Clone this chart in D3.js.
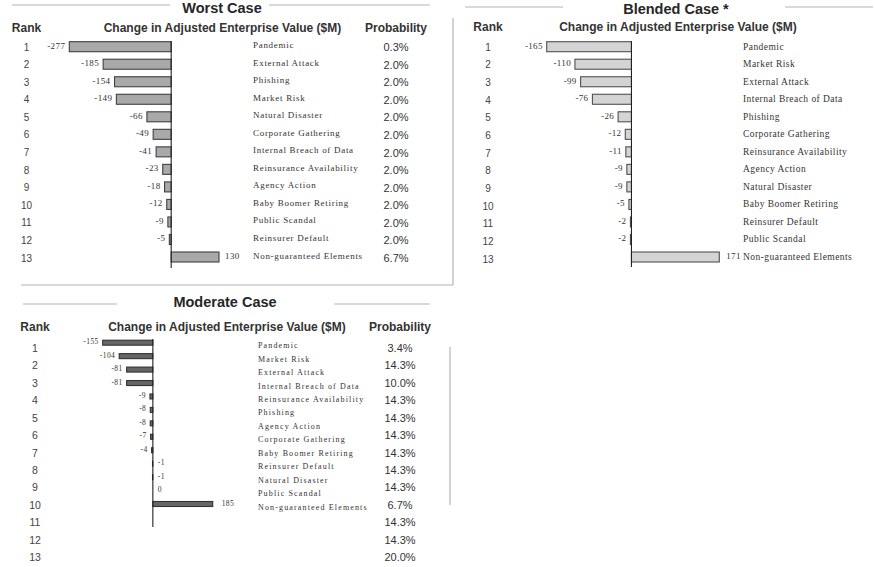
<!DOCTYPE html>
<html>
<head>
<meta charset="utf-8">
<script src="https://cdn.jsdelivr.net/npm/d3@7/dist/d3.min.js"></script>
<style>
body { margin: 0; background: #fff; }
svg { display: block; font-family: "Liberation Sans", Arial, sans-serif; }
</style>
</head>
<body>
<div id="chart"></div>
<script>
// rank labels shared by the three panels
const ranks = [1, 2, 3, 4, 5, 6, 7, 8, 9, 10, 11, 12, 13];

// Worst case
const worstRisks = ["Pandemic", "External Attack", "Phishing", "Market Risk", "Natural Disaster",
    "Corporate Gathering", "Internal Breach of Data", "Reinsurance Availability", "Agency Action",
    "Baby Boomer Retiring", "Public Scandal", "Reinsurer Default", "Non-guaranteed Elements"];
const worstValues = [-277, -185, -154, -149, -66, -49, -41, -23, -18, -12, -9, -5, 130];
const worstProb = ["0.3%", "2.0%", "2.0%", "2.0%", "2.0%", "2.0%", "2.0%", "2.0%", "2.0%",
    "2.0%", "2.0%", "2.0%", "6.7%"];

// Blended case
const blendedRisks = ["Pandemic", "Market Risk", "External Attack", "Internal Breach of Data",
    "Phishing", "Corporate Gathering", "Reinsurance Availability", "Agency Action",
    "Natural Disaster", "Baby Boomer Retiring", "Reinsurer Default", "Public Scandal",
    "Non-guaranteed Elements"];
const blendedValues = [-165, -110, -99, -76, -26, -12, -11, -9, -9, -5, -2, -2, 171];

// Moderate case
const moderateRisks = ["Pandemic", "Market Risk", "External Attack", "Internal Breach of Data",
    "Reinsurance Availability", "Phishing", "Agency Action", "Corporate Gathering",
    "Baby Boomer Retiring", "Reinsurer Default", "Natural Disaster", "Public Scandal",
    "Non-guaranteed Elements"];
const moderateValues = [-155, -104, -81, -81, -9, -8, -8, -7, -4, -1, -1, 0, 185];
const moderateProb = ["3.4%", "14.3%", "10.0%", "14.3%", "14.3%", "14.3%", "14.3%", "14.3%",
    "14.3%", "6.7%", "14.3%", "14.3%", "20.0%"];

const width = 875, height = 567;
const svg = d3.select("#chart").append("svg")
    .attr("width", width)
    .attr("height", height);

const lineColor = "#b4b4b4";

function drawPanel(p) {
    const g = svg.append("g");

    // title with rules each side
    g.append("text")
        .attr("x", p.titleX).attr("y", p.titleY)
        .attr("text-anchor", "middle").attr("dominant-baseline", "central")
        .attr("font-size", "14.5px").attr("font-weight", "bold").attr("fill", "#262626")
        .text(p.title);
    p.titleLines.forEach(l => {
        g.append("line")
            .attr("x1", l[0]).attr("x2", l[1])
            .attr("y1", l[2]).attr("y2", l[2])
            .attr("stroke", lineColor).attr("stroke-width", 1.2);
    });

    // column headers
    const headers = [["Rank", p.rankX], ["Change in Adjusted Enterprise Value ($M)", p.changeX]];
    if (p.probs) headers.push(["Probability", p.probX]);
    headers.forEach(h => {
        g.append("text")
            .attr("x", h[1]).attr("y", p.headerY)
            .attr("text-anchor", "middle").attr("dominant-baseline", "central")
            .attr("font-size", "12px").attr("font-weight", "bold").attr("fill", "#333")
            .text(h[0]);
    });

    // row positions for rank and probability columns
    const rowScale = d3.scalePoint().domain(ranks).range(p.rowRange);
    // bar positions
    const barScale = d3.scalePoint().domain(d3.range(p.values.length)).range(p.barRange);
    const xScale = d3.scaleLinear()
        .domain(d3.extent(p.values))
        .range(p.xRange);

    g.append("g").selectAll("text")
        .data(ranks)
        .join("text")
        .attr("x", p.rankX)
        .attr("y", d => rowScale(d))
        .attr("text-anchor", "middle").attr("dominant-baseline", "central")
        .attr("font-size", p.rankSize).attr("fill", "#444")
        .text(d => d);

    if (p.probs) {
        g.append("g").selectAll("text")
            .data(p.probs)
            .join("text")
            .attr("x", p.probX)
            .attr("y", (d, i) => rowScale(ranks[i]))
            .attr("text-anchor", "middle").attr("dominant-baseline", "central")
            .attr("font-size", "11px").attr("fill", "#333")
            .text(d => d);
    }

    const bars = g.append("g").selectAll("rect")
        .data(p.values)
        .join("rect")
        .attr("x", d => xScale(Math.min(0, d)))
        .attr("y", (d, i) => barScale(i) - p.barH / 2)
        .attr("width", d => Math.abs(xScale(d) - xScale(0)))
        .attr("height", p.barH)
        .attr("fill", p.fill)
        .attr("stroke", p.stroke)
        .attr("stroke-width", 1.1);

    // zero axis line
    g.append("line")
        .attr("x1", xScale(0)).attr("x2", xScale(0))
        .attr("y1", p.axisRange[0]).attr("y2", p.axisRange[1])
        .attr("stroke", "#222").attr("stroke-width", 1.1);

    // value labels
    g.append("g").selectAll("text")
        .data(p.values)
        .join("text")
        .attr("x", d => d > 0 ? xScale(d) + p.posGap
            : (d >= -1 ? xScale(0) + 5 : xScale(d) - 4))
        .attr("y", (d, i) => barScale(i) + p.valueDy)
        .attr("text-anchor", d => (d >= -1) ? "start" : "end")
        .attr("dominant-baseline", "central")
        .attr("font-family", "'Liberation Serif', 'Times New Roman', serif")
        .attr("font-size", p.valueSize).attr("letter-spacing", p.valueSpacing)
        .attr("fill", "#333")
        .text(d => d);

    // risk names
    g.append("g").selectAll("text")
        .data(p.risks)
        .join("text")
        .attr("x", p.riskX)
        .attr("y", (d, i) => barScale(i) + p.riskDy)
        .attr("dominant-baseline", "central")
        .attr("font-family", "'Liberation Serif', 'Times New Roman', serif")
        .attr("font-size", p.riskSize).attr("letter-spacing", p.riskSpacing)
        .attr("fill", "#333")
        .text(d => d);
}

drawPanel({
    title: "Worst Case", titleX: 222, titleY: 8,
    titleLines: [[12, 170, 5], [269, 430, 5]],
    headerY: 28, rankX: 26.5, changeX: 222.5, probX: 396,
    rowRange: [47, 258], barRange: [46.7, 257], barH: 10,
    xRange: [69.3, 219], axisRange: [41, 268],
    values: worstValues, risks: worstRisks, probs: worstProb,
    riskX: 253, riskDy: -1.5, riskSize: "9px", riskSpacing: 0.7,
    valueSize: "9px", valueSpacing: 0.4, valueDy: -1, posGap: 6,
    rankSize: "10px",
    fill: "#a9a9a9", stroke: "#404040"
});

drawPanel({
    title: "Blended Case *", titleX: 676, titleY: 9,
    titleLines: [[465, 563, 7], [785, 873, 7]],
    headerY: 27, rankX: 488, changeX: 678,
    rowRange: [47, 259], barRange: [46.7, 257], barH: 10,
    xRange: [546.7, 719.3], axisRange: [41, 267],
    values: blendedValues, risks: blendedRisks, probs: null,
    riskX: 743, riskDy: 0, riskSize: "9.5px", riskSpacing: 0.45,
    valueSize: "9px", valueSpacing: 0.3, valueDy: -1, posGap: 7,
    rankSize: "10px",
    fill: "#d4d4d4", stroke: "#505050"
});

drawPanel({
    title: "Moderate Case", titleX: 225, titleY: 302,
    titleLines: [[23, 117, 304], [334, 430, 304]],
    headerY: 327, rankX: 35, changeX: 227, probX: 400,
    rowRange: [348, 557], barRange: [342.7, 504], barH: 5,
    xRange: [102.7, 212.7], axisRange: [339, 527],
    values: moderateValues, risks: moderateRisks, probs: moderateProb,
    riskX: 258, riskDy: 3, riskSize: "8px", riskSpacing: 1.15,
    valueSize: "7.5px", valueSpacing: 0.4, valueDy: -1, posGap: 9,
    rankSize: "10.5px",
    fill: "#666", stroke: "#333"
});

// panel separators
svg.append("line")
    .attr("x1", 21).attr("x2", 453).attr("y1", 285).attr("y2", 285)
    .attr("stroke", lineColor).attr("stroke-width", 1.2);
svg.append("line")
    .attr("x1", 453).attr("x2", 453).attr("y1", 18).attr("y2", 285)
    .attr("stroke", lineColor).attr("stroke-width", 1.2);
svg.append("line")
    .attr("x1", 450).attr("x2", 450).attr("y1", 347).attr("y2", 505)
    .attr("stroke", lineColor).attr("stroke-width", 1.2);
</script>
</body>
</html>
